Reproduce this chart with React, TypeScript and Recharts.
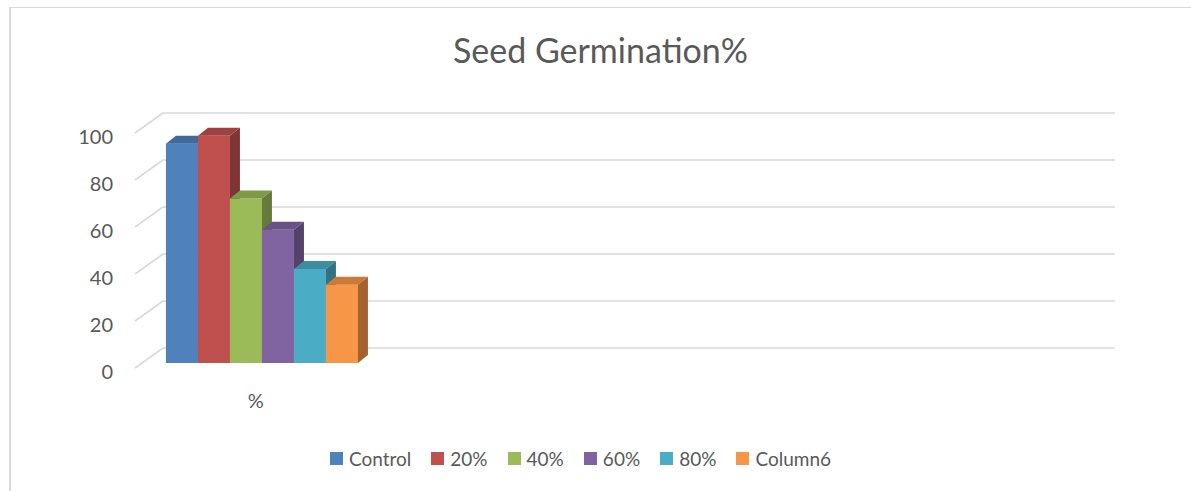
import React from "react";
import { BarChart, Bar, XAxis, YAxis, CartesianGrid } from "recharts";

const categories = ["%", "", "", ""];
const seriesNames = ["Control", "20%", "40%", "60%", "80%", "Column6"];
const controlValues = [93.33, null, null, null];
const p20Values = [96.67, null, null, null];
const p40Values = [70, null, null, null];
const p60Values = [56.67, null, null, null];
const p80Values = [40, null, null, null];
const column6Values = [33.33, null, null, null];
const yTicks = [0, 20, 40, 60, 80, 100];
const colors = ["#4f81bd", "#c0504d", "#9bbb59", "#8064a2", "#4bacc6", "#f79646"];

const seriesValues = [controlValues, p20Values, p40Values, p60Values, p80Values, column6Values];
const keys = ["s0", "s1", "s2", "s3", "s4", "s5"];

const data = categories.map((c, i) => {
  const row: any = { name: c + " ".repeat(i) };
  seriesValues.forEach((vals, s) => {
    row[keys[s]] = vals[i];
  });
  return row;
});

const FONT = "Lato, 'Open Sans', sans-serif";
const TEXT = "#595959";
const GRID = "#d9d9d9";
const DX = 10;
const DY = -8;

function shade(hex: string, f: number) {
  const n = parseInt(hex.slice(1), 16);
  const r = Math.round(((n >> 16) & 255) * f);
  const g = Math.round(((n >> 8) & 255) * f);
  const b = Math.round((n & 255) * f);
  return `rgb(${r},${g},${b})`;
}

function Bar3D(props: any) {
  const { x, y, width, height, fill, value } = props;
  if (value == null || !height || height <= 0) return null;
  const top = shade(fill, 0.82);
  const side = shade(fill, 0.66);
  return (
    <g>
      <rect x={x} y={y} width={width} height={height} fill={fill} />
      <polygon
        points={`${x},${y} ${x + DX},${y + DY} ${x + width + DX},${y + DY} ${x + width},${y}`}
        fill={top}
      />
      <polygon
        points={`${x + width},${y} ${x + width + DX},${y + DY} ${x + width + DX},${y + height + DY} ${x + width},${y + height}`}
        fill={side}
      />
    </g>
  );
}

function GridLine(p: any) {
  const { x1, x2, y1, key } = p;
  return (
    <g key={key}>
      <line x1={x1 + 21} y1={y1 - 15} x2={x2 + 15} y2={y1 - 15} stroke={GRID} strokeWidth={1.6} />
      <line x1={x1 - 7} y1={y1 + 5} x2={x1 + 21} y2={y1 - 15} stroke={GRID} strokeWidth={1.6} />
    </g>
  );
}

function YTick(p: any) {
  const { x, y, payload } = p;
  return (
    <text x={x - 29} y={y + 15.5} textAnchor="end" fill={TEXT} fontSize={20} fontFamily={FONT}>
      {payload.value}
    </text>
  );
}

function XTick(p: any) {
  const { x, y, payload } = p;
  return (
    <text x={x - 6} y={y + 45} textAnchor="middle" fill={TEXT} fontSize={20} fontFamily={FONT}>
      {String(payload.value).trim()}
    </text>
  );
}

export default function App() {
  return (
    <div
      style={{
        position: "absolute",
        left: 0,
        top: 0,
        width: 1191,
        height: 491,
        background: "#fff",
        overflow: "hidden",
        fontFamily: FONT,
      }}
    >
      <div
        style={{
          position: "absolute",
          left: 9,
          top: 7,
          width: 1200,
          height: 500,
          borderTop: `1px solid ${GRID}`,
          borderLeft: `2px solid ${GRID}`,
          boxSizing: "border-box",
        }}
      />
      <svg
        width={1191}
        height={491}
        style={{ position: "absolute", left: 0, top: 0, pointerEvents: "none" }}
      >
        <text x={600.5} y={63} textAnchor="middle" fill={TEXT} fontSize={34} fontFamily={FONT}>
          Seed Germination%
        </text>
      </svg>
      <div style={{ position: "absolute", left: 0, top: 0 }}>
        <BarChart
          width={1191}
          height={491}
          data={data}
          margin={{ top: 128, right: 91, bottom: 98, left: 82 }}
          barCategoryGap="10%"
          barGap={0}
        >
          <CartesianGrid vertical={false} horizontal={GridLine as any} />
          <XAxis
            dataKey="name"
            height={30}
            axisLine={false}
            tickLine={false}
            tickSize={0}
            tickMargin={0}
            interval={0}
            tick={<XTick />}
          />
          <YAxis
            width={60}
            domain={[0, 100]}
            ticks={yTicks}
            axisLine={false}
            tickLine={false}
            tickSize={0}
            tickMargin={0}
            tick={<YTick />}
          />
          {keys.map((k, i) => (
            <Bar
              key={k}
              dataKey={k}
              name={seriesNames[i]}
              fill={colors[i]}
              shape={<Bar3D />}
              isAnimationActive={false}
            />
          ))}
        </BarChart>
      </div>
      <div
        style={{
          position: "absolute",
          left: 0,
          top: 446,
          width: 1161,
          height: 24,
          display: "flex",
          justifyContent: "center",
          alignItems: "center",
          gap: 20,
          color: TEXT,
          fontSize: 19,
          fontFamily: FONT,
        }}
      >
        {seriesNames.map((n, i) => (
          <div key={n} style={{ display: "flex", alignItems: "center" }}>
            <span
              style={{ width: 13, height: 13, background: colors[i], marginRight: 6, display: "inline-block" }}
            />
            <span>{n}</span>
          </div>
        ))}
      </div>
    </div>
  );
}
